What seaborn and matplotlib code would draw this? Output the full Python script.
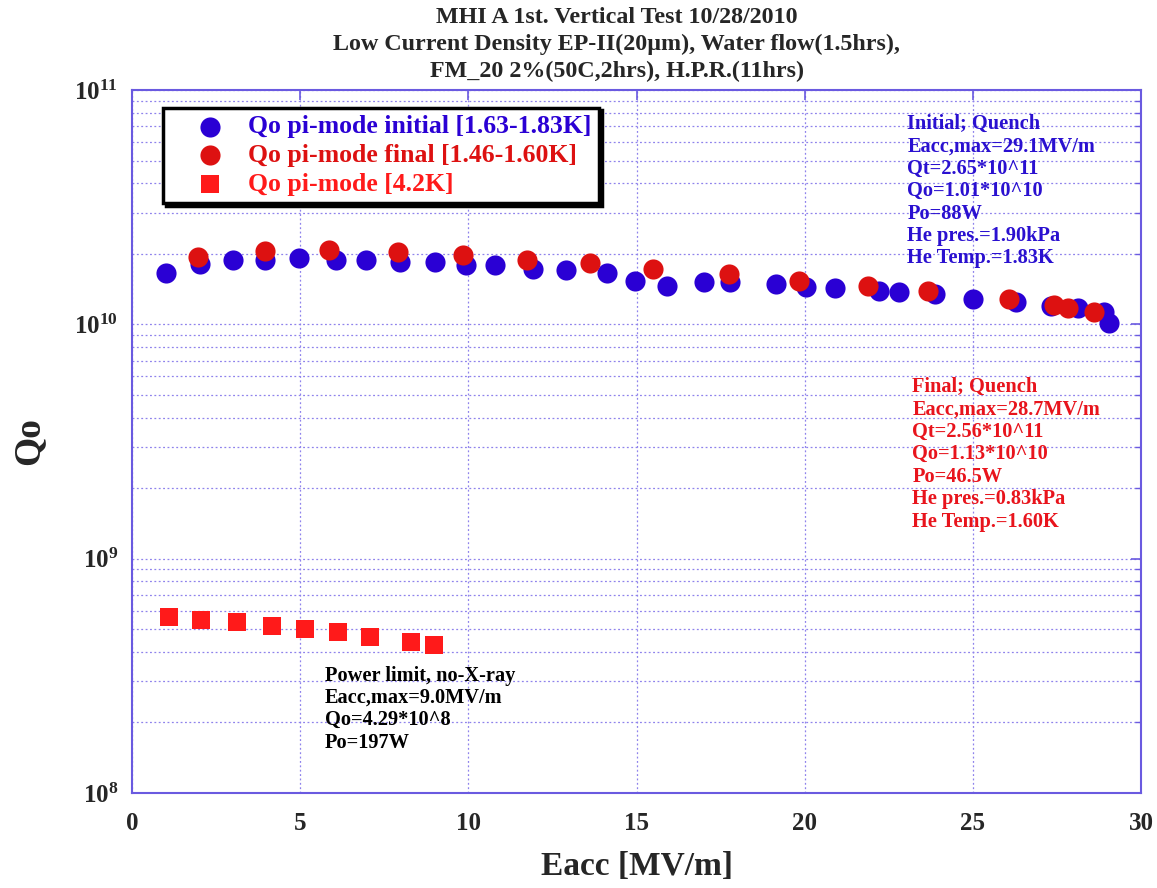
import numpy as np
import pandas as pd
import matplotlib
matplotlib.use('Agg')
import matplotlib.pyplot as plt
import seaborn as sns

# data
eacc_initial = [1.0, 2.02, 2.99, 3.96, 4.97, 6.06, 6.96, 7.96, 9.02, 9.94, 10.78, 11.92, 12.89,
                14.13, 14.95, 15.92, 17.0, 17.77, 19.15, 20.03, 20.9, 22.21, 22.8, 23.88,
                25.0, 26.28, 27.31, 28.13, 28.9, 29.05]
qo_initial = [1.65e10, 1.81e10, 1.89e10, 1.89e10, 1.92e10, 1.88e10, 1.88e10, 1.85e10, 1.85e10,
              1.79e10, 1.79e10, 1.73e10, 1.71e10, 1.65e10, 1.53e10, 1.46e10, 1.51e10, 1.52e10,
              1.49e10, 1.45e10, 1.43e10, 1.39e10, 1.37e10, 1.35e10, 1.28e10, 1.24e10, 1.20e10,
              1.17e10, 1.13e10, 1.01e10]

eacc_final = [1.97, 3.94, 5.86, 7.91, 9.84, 11.75, 13.63, 15.5, 17.75, 19.84, 21.87, 23.67,
              26.06, 27.41, 27.82, 28.59]
qo_final = [1.94e10, 2.05e10, 2.07e10, 2.03e10, 1.98e10, 1.89e10, 1.82e10, 1.73e10, 1.64e10,
            1.53e10, 1.46e10, 1.39e10, 1.28e10, 1.21e10, 1.18e10, 1.13e10]

eacc_42k = [1.1, 2.05, 3.13, 4.16, 5.15, 6.12, 7.08, 8.29, 8.99]
qo_42k = [5.65e8, 5.5e8, 5.36e8, 5.17e8, 5.0e8, 4.85e8, 4.64e8, 4.42e8, 4.29e8]

labels = ['Qo pi-mode initial [1.63-1.83K]', 'Qo pi-mode final [1.46-1.60K]', 'Qo pi-mode [4.2K]']

title_lines = ['MHI A 1st. Vertical Test 10/28/2010',
               'Low Current Density EP-II(20\u00b5m), Water flow(1.5hrs),',
               'FM_20 2%(50C,2hrs), H.P.R.(11hrs)']

initial_note = ['Initial; Quench', 'Eacc,max=29.1MV/m', 'Qt=2.65*10^11', 'Qo=1.01*10^10',
                'Po=88W', 'He pres.=1.90kPa', 'He Temp.=1.83K']
final_note = ['Final; Quench', 'Eacc,max=28.7MV/m', 'Qt=2.56*10^11', 'Qo=1.13*10^10',
              'Po=46.5W', 'He pres.=0.83kPa', 'He Temp.=1.60K']
low_note = ['Power limit, no-X-ray', 'Eacc,max=9.0MV/m', 'Qo=4.29*10^8', 'Po=197W']

blue = '#2a00d4'
red = '#dd1111'
sq_red = '#ff1a1a'
grid_c = '#8f82ec'

sns.set_style('white')
plt.rcParams['font.family'] = ['Liberation Serif', 'DejaVu Serif']
plt.rcParams['font.weight'] = 'bold'
plt.rcParams['mathtext.fontset'] = 'custom'
plt.rcParams['mathtext.rm'] = 'Liberation Serif:bold'
plt.rcParams['mathtext.bf'] = 'Liberation Serif:bold'

fig = plt.figure(figsize=(11.57, 8.88), dpi=100)
ax = fig.add_axes([0.1141, 0.107, 0.8721, 0.7916])

df_i = pd.DataFrame({'Eacc': eacc_initial, 'Qo': qo_initial})
df_f = pd.DataFrame({'Eacc': eacc_final, 'Qo': qo_final})
df_4 = pd.DataFrame({'Eacc': eacc_42k, 'Qo': qo_42k})

sns.scatterplot(data=df_i, x='Eacc', y='Qo', color=blue, marker='o', s=210, linewidth=0,
                label=labels[0], ax=ax, zorder=3)
sns.scatterplot(data=df_f, x='Eacc', y='Qo', color=red, marker='o', s=210, linewidth=0,
                label=labels[1], ax=ax, zorder=4)
sns.scatterplot(data=df_4, x='Eacc', y='Qo', color=sq_red, marker='s', s=150, linewidth=0,
                label=labels[2], ax=ax, zorder=4)

ax.set_yscale('log')
ax.set_xlim(0, 30)
ax.set_ylim(1e8, 1e11)
ax.set_xticks([0, 5, 10, 15, 20, 25, 30])
ax.set_yticks([1e8, 1e9, 1e10, 1e11])

ax.grid(True, which='both', axis='y', color=grid_c, linestyle=(0, (1.5, 2)), linewidth=0.9)
ax.grid(True, which='major', axis='x', color=grid_c, linestyle=(0, (1.5, 2)), linewidth=0.9)
ax.set_axisbelow(True)
for sp in ax.spines.values():
    sp.set_color('#6a5ae0')
    sp.set_linewidth(1.5)
ax.tick_params(which='both', direction='in', color='#6a5ae0', top=True, right=True)
ax.tick_params(which='major', length=7, width=1.2)
ax.tick_params(which='minor', length=4, width=1.0)
ax.tick_params(axis='x', labelsize=18, pad=14)
ax.tick_params(axis='y', labelsize=18, pad=10)
for t in ax.get_xticklabels() + ax.get_yticklabels():
    t.set_fontweight('bold')

ax.set_xlabel('Eacc [MV/m]', fontsize=24, fontweight='bold', labelpad=11)
ax.set_ylabel('Qo', fontsize=27, fontweight='bold', labelpad=20)

fig.text(0.533, 0.992, '\n'.join(title_lines), ha='center', va='top', fontsize=17.3,
         fontweight='bold', linespacing=1.36)

ax.text(23.05, 7.9e10, '\n'.join(initial_note), color='#2a10d0', fontsize=14.7,
        fontweight='bold', va='top', ha='left', linespacing=1.16)
ax.text(23.2, 5.95e9, '\n'.join(final_note), color='#e8141c', fontsize=14.7,
        fontweight='bold', va='top', ha='left', linespacing=1.16)
ax.text(5.74, 3.5e8, '\n'.join(low_note), color='black', fontsize=14.7,
        fontweight='bold', va='top', ha='left', linespacing=1.16)

leg = ax.legend(loc='upper left', bbox_to_anchor=(0.031, 0.975), fontsize=18.5,
                frameon=True, fancybox=False, edgecolor='black', framealpha=1,
                shadow={'color': 'black', 'alpha': 1}, borderpad=0.3,
                handletextpad=0.0, handlelength=3.0, labelspacing=0.22, markerscale=1.0,
                borderaxespad=0)
leg.get_frame().set_linewidth(2.5)
for txt, c in zip(leg.get_texts(), [blue, red, sq_red]):
    txt.set_color(c)
    txt.set_fontweight('bold')

fig.savefig('out.png', dpi=100)
